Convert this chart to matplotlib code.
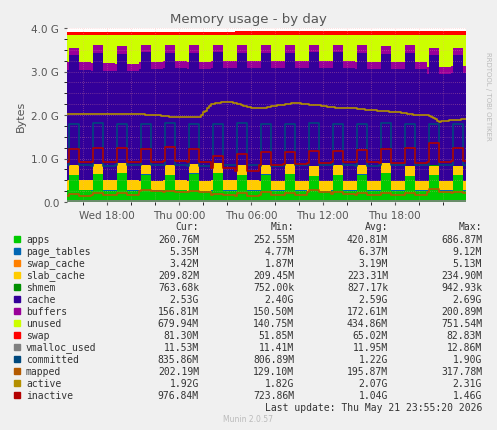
import numpy as np
import matplotlib
matplotlib.use("Agg")
import matplotlib.pyplot as plt

# ---- data (GB), 10-minute samples starting Wed 14:40, period 2h ----
T0 = 14.0 + 40/60
STEP = 1/6
PEAK = [0, 1, 1, 1, 1, 1, 0, 0, 0, 0, 0, 0]   # shape of one 2-hour cycle
N_CYCLES = 17
apps_hi   = [0.62,0.64,0.66,0.63,0.62,0.65,0.66,0.62,0.63,0.64,0.60,0.62,0.63,0.66,0.60,0.62,0.61]
apps_lo   = [0.27,0.26,0.26,0.26,0.27,0.25,0.26,0.26,0.26,0.26,0.25,0.26,0.26,0.26,0.26,0.26,0.26]
slab      = [0.23,0.23,0.23,0.22,0.22,0.22,0.23,0.23,0.22,0.22,0.22,0.22,0.22,0.22,0.22,0.21,0.21]
page_tables = 0.006
swap_cache = 0.003
shmem = 0.0008
buf_top_hi = [3.55,3.60,3.58,3.62,3.60,3.60,3.62,3.60,3.60,3.60,3.62,3.62,3.60,3.58,3.60,3.55,3.55]
buf_top_lo = [3.22,3.20,3.18,3.22,3.24,3.22,3.25,3.24,3.24,3.24,3.24,3.24,3.22,3.22,3.22,3.10,3.12]
buffers   = [0.18,0.18,0.17,0.17,0.17,0.17,0.17,0.17,0.17,0.17,0.17,0.17,0.17,0.17,0.17,0.16,0.16]
total_ram = 3.85
swap      = [0.052,0.052,0.052,0.052,0.055,0.058,0.062,0.080,0.080,0.080,0.081,0.081,0.081,0.081,0.081,0.081,0.081]
committed_hi = [1.80,1.82,1.80,1.80,1.82,1.80,1.80,1.82,1.80,1.80,1.82,1.80,1.80,1.82,1.80,1.80,1.80]
committed_lo = [0.85,0.83,0.84,0.85,0.84,0.83,0.85,0.84,0.83,0.84,0.85,0.84,0.83,0.84,0.85,0.84,0.84]
inactive_hi = [1.22,1.25,1.24,1.22,1.26,1.22,1.05,1.10,1.15,1.15,1.18,1.18,1.20,1.22,1.25,1.35,1.25]
inactive_lo = [0.92,0.93,0.92,0.92,0.95,0.93,0.78,0.72,0.85,0.88,0.90,0.92,0.92,0.90,0.90,0.92,0.95]
mapped_lo = [0.14,0.15,0.15,0.25,0.22,0.22,0.15,0.14,0.15,0.15,0.24,0.18,0.15,0.15,0.15,0.24,0.20]
mapped_hi = [0.18,0.20,0.20,0.28,0.26,0.25,0.18,0.20,0.22,0.20,0.28,0.24,0.20,0.20,0.20,0.30,0.24]
vmalloc = 0.012
active_hourly = [2.02,2.02,2.03,2.02,2.03,2.03,2.03,2.00,1.98,1.95,1.95,1.96,2.25,2.30,2.28,2.18,
                 2.15,2.20,2.24,2.28,2.25,2.22,2.18,2.15,2.15,2.12,2.10,2.08,2.05,2.00,2.00,1.85,1.88,1.90]

legend_names = ["apps","page_tables","swap_cache","slab_cache","shmem","cache","buffers","unused",
                "swap","vmalloc_used","committed","mapped","active","inactive"]
legend_colors = ["#00CC00","#0066B3","#FF8000","#FFCC00","#008F00","#330099","#990099","#CCFF00",
                 "#FF0000","#808080","#00487D","#B35A00","#B38F00","#B30000"]
cur_vals = ["260.76M","5.35M","3.42M","209.82M","763.68k","2.53G","156.81M","679.94M","81.30M","11.53M","835.86M","202.19M","1.92G","976.84M"]
min_vals = ["252.55M","4.77M","1.87M","209.45M","752.00k","2.40G","150.50M","140.75M","51.85M","11.41M","806.89M","129.10M","1.82G","723.86M"]
avg_vals = ["420.81M","6.37M","3.19M","223.31M","827.17k","2.59G","172.61M","434.86M","65.02M","11.95M","1.22G","195.87M","2.07G","1.04G"]
max_vals = ["686.87M","9.12M","5.13M","234.90M","942.93k","2.69G","200.89M","751.54M","82.83M","12.86M","1.90G","317.78M","2.31G","1.46G"]

# ---- build series ----
def wave(hi, lo):
    out = []
    for c in range(N_CYCLES):
        for p in PEAK:
            out.append(hi[c] if p else lo[c])
    return np.array(out)

n = N_CYCLES * len(PEAK)
t = T0 + np.arange(n) * STEP
rep = lambda a: np.repeat(np.array(a), len(PEAK))
apps = wave(apps_hi, apps_lo)
slab_s = rep(slab)
buf_top = wave(buf_top_hi, buf_top_lo)
buf_s = rep(buffers)
base = apps + page_tables + swap_cache + slab_s + shmem
cache = buf_top - buf_s - base
unused = total_ram - buf_top
swap_s = rep(swap)
committed = wave(committed_hi, committed_lo)
inactive = wave(inactive_hi, inactive_lo)
mapped = wave(mapped_hi, mapped_lo)
active = np.interp(t, T0 + np.arange(len(active_hourly)), active_hourly)
active = np.round(active / 0.01) * 0.01

W, H = 497, 431
fig = plt.figure(figsize=(W/100, H/100), dpi=100, facecolor="#F0F0F0")
ax = fig.add_axes([67/W, 1-203/H, (466-67)/W, (203-29)/H])
ax.set_facecolor("white")

layers = [apps, np.full(n, page_tables), np.full(n, swap_cache), slab_s, np.full(n, shmem), cache, buf_s, unused, swap_s]
ax.stackplot(t, *layers, colors=legend_colors[:9], step="post", linewidth=0)
for y, col in [(np.full(n, vmalloc), "#808080"), (committed, "#00487D"), (mapped, "#B35A00"),
               (active, "#B38F00"), (inactive, "#B30000")]:
    ax.step(t, y, where="post", color=col, lw=1.2)

ax.set_xlim(T0, 47.95)
ax.set_ylim(0, 4.0)
ax.set_xticks([18, 24, 30, 36, 42])
ax.set_xticklabels(["Wed 18:00", "Thu 00:00", "Thu 06:00", "Thu 12:00", "Thu 18:00"])
ax.set_yticks([0, 1, 2, 3, 4])
ax.set_yticklabels(["0.0", "1.0 G", "2.0 G", "3.0 G", "4.0 G"])
ax.set_xticks(np.arange(16, 48, 2), minor=True)
ax.set_yticks(np.arange(0.25, 4, 0.25), minor=True)
ax.grid(True, which="both", color="#FF9999", ls=(0, (1, 2)), lw=0.5, alpha=0.6)
ax.tick_params(labelsize=7.5, colors="#555555", length=2)
for s in ax.spines.values():
    s.set_visible(False)
ax.set_ylabel("Bytes", fontsize=8, color="#555555")
fig.text(0.5, 1-20/H, "Memory usage - by day", ha="center", va="center", fontsize=9.5, color="#555555")
fig.text(488/W, 1-52/H, "RRDTOOL / TOBI OETIKER", rotation=270, ha="center", va="top", fontsize=5, color="#BBBBBB")

mono = dict(family="DejaVu Sans Mono", fontsize=7, color="#333333", va="center")
fx = lambda x: x/W
fy = lambda y: 1-y/H
for col_x, lab in [(199, "Cur:"), (294, "Min:"), (388, "Avg:"), (482, "Max:")]:
    fig.text(fx(col_x), fy(227), lab, ha="right", **mono)
for i, name in enumerate(legend_names):
    y = 240 + i*12
    fig.patches.append(plt.Rectangle((fx(14), fy(y+3)), 6/W, 6/H, transform=fig.transFigure,
                                     color=legend_colors[i], figure=fig))
    fig.text(fx(26), fy(y), name, ha="left", **mono)
    for col_x, vals in [(199, cur_vals), (294, min_vals), (388, avg_vals), (482, max_vals)]:
        fig.text(fx(col_x), fy(y), vals[i], ha="right", **mono)
fig.text(fx(482), fy(408), "Last update: Thu May 21 23:55:20 2026", ha="right", **mono)
fig.text(fx(248), fy(420), "Munin 2.0.57", ha="center", va="center", fontsize=5.5, color="#BBBBBB")

fig.savefig("out.png", dpi=100, facecolor=fig.get_facecolor())
